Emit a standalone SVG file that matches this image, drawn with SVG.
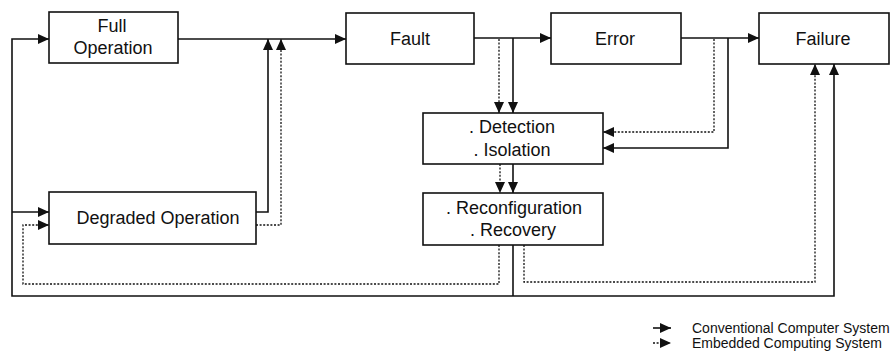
<svg xmlns="http://www.w3.org/2000/svg" width="896" height="361" viewBox="0 0 896 361">
<style>
.box{fill:#fff;stroke:#111;stroke-width:1.6}
.lbl{font-family:"Liberation Sans",Arial,sans-serif;font-size:18px;fill:#111;text-anchor:middle}
.leg{font-family:"Liberation Sans",Arial,sans-serif;font-size:14px;fill:#111}
.s{fill:none;stroke:#111;stroke-width:1.6}
.d{fill:none;stroke:#111;stroke-width:1.3;stroke-dasharray:2 1.6}
.sa{marker-end:url(#ah)}
</style>
<defs>
<marker id="ah" markerUnits="userSpaceOnUse" markerWidth="12" markerHeight="10" refX="11" refY="5" orient="auto">
<path d="M0,0 L11,5 L0,10 Z" fill="#111"/>
</marker>
</defs>
<rect width="896" height="361" fill="#fff"/>
<g id="connectors">
<!-- solid -->
<path class="s sa" d="M178,39 H346"/>
<path class="s sa" d="M474,38 H551"/>
<path class="s sa" d="M681,38 H759"/>
<path class="s sa" d="M513,38 V113"/>
<path class="s sa" d="M728,38 V148 H603"/>
<path class="s sa" d="M513,164 V193"/>
<path class="s" d="M513,245 V296"/>
<path class="s sa" d="M513,296 H834 V64"/>
<path class="s sa" d="M513,296 H12 V39 H49"/>
<path class="s sa" d="M12,212 H49"/>
<path class="s sa" d="M256,212 H268 V39"/>
<!-- dotted -->
<path class="d sa" d="M499,39 V113"/>
<path class="d sa" d="M714,39 V132 H603"/>
<path class="d sa" d="M500,164 V193"/>
<path class="d sa" d="M499,245 V284 H23 V225 H49"/>
<path class="d sa" d="M524,245 V282 H815 V64"/>
<path class="d sa" d="M256,225 H281 V39"/>
<!-- legend -->
<path class="s sa" d="M653,328 H671"/>
<path class="d sa" d="M653,343 H671"/>
</g>
<g id="full-operation">
<rect class="box" x="49" y="12" width="129" height="51"/>
<text class="lbl" x="112" y="32">Full</text>
<text class="lbl" x="113" y="54">Operation</text>
</g>
<g id="fault">
<rect class="box" x="346" y="13" width="128" height="51"/>
<text class="lbl" x="410" y="45">Fault</text>
</g>
<g id="error">
<rect class="box" x="551" y="13" width="130" height="51"/>
<text class="lbl" x="615" y="45">Error</text>
</g>
<g id="failure">
<rect class="box" x="759" y="13" width="130" height="51"/>
<text class="lbl" x="823" y="45">Failure</text>
</g>
<g id="detection">
<rect class="box" x="423" y="113" width="180" height="51"/>
<text class="lbl" x="512" y="133">. Detection</text>
<text class="lbl" x="512" y="156">. Isolation</text>
</g>
<g id="reconfiguration">
<rect class="box" x="423" y="193" width="180" height="52"/>
<text class="lbl" x="514" y="214">. Reconfiguration</text>
<text class="lbl" x="513" y="236">. Recovery</text>
</g>
<g id="degraded-operation">
<rect class="box" x="49" y="192" width="207" height="52"/>
<text class="lbl" x="158" y="224">Degraded Operation</text>
</g>
<g id="legend">
<text class="leg" x="692" y="333">Conventional Computer System</text>
<text class="leg" x="692" y="348">Embedded Computing System</text>
</g>
</svg>
